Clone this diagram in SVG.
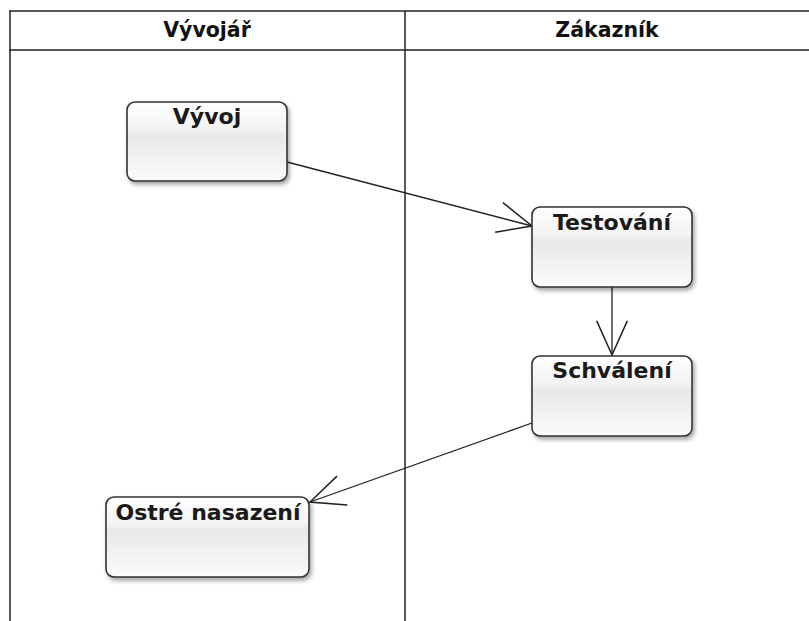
<svg xmlns="http://www.w3.org/2000/svg" width="809" height="621" viewBox="0 0 809 621">
<style>
.frame{stroke:#222;stroke-width:1.5;fill:none}
.hdr{font-family:"DejaVu Sans",sans-serif;font-weight:bold;font-size:20.5px;fill:#111;text-anchor:middle}
.box{fill:url(#g);stroke:#333;stroke-width:1.6;filter:url(#sh)}
.lbl{font-family:"DejaVu Sans",sans-serif;font-weight:bold;font-size:22px;fill:#1a1a1a;text-anchor:middle}
.edge{stroke:#222;stroke-width:1.3;fill:none;marker-end:url(#arr)}
</style>
<defs>
<linearGradient id="g" x1="0" y1="0" x2="0" y2="1">
<stop offset="0" stop-color="#ffffff"/>
<stop offset="0.35" stop-color="#f2f2f2"/>
<stop offset="0.42" stop-color="#e8e8e8"/>
<stop offset="1" stop-color="#fbfbfb"/>
</linearGradient>
<filter id="sh" x="-10%" y="-10%" width="125%" height="135%">
<feDropShadow dx="2" dy="3" stdDeviation="2.2" flood-color="#000" flood-opacity="0.35"/>
</filter>
<marker id="arr" markerUnits="userSpaceOnUse" markerWidth="40" markerHeight="40" refX="0" refY="0" viewBox="-32 -16 34 32" orient="auto">
<path d="M-29,-13 L0,0 L-29,13" fill="none" stroke="#222" stroke-width="1.3"/>
</marker>
</defs>
<g id="frame">
<line class="frame" x1="9" y1="11" x2="809" y2="11"/>
<line class="frame" x1="9" y1="50" x2="809" y2="50"/>
<line class="frame" x1="10" y1="11" x2="10" y2="621"/>
<line class="frame" x1="405" y1="11" x2="405" y2="621"/>
<text class="hdr" x="207" y="37">Vývojář</text>
<text class="hdr" x="607" y="37">Zákazník</text>
</g>
<g id="connectors">
<line class="edge" x1="287" y1="162" x2="532" y2="226"/>
<line class="edge" x1="612" y1="287" x2="612" y2="355"/>
<line class="edge" x1="532" y1="423" x2="310" y2="502"/>
</g>
<g id="n-vyvoj">
<rect class="box" x="127" y="102" width="160" height="79" rx="8"/>
<text class="lbl" x="207" y="124">Vývoj</text>
</g>
<g id="n-testovani">
<rect class="box" x="532" y="207" width="160" height="80" rx="8"/>
<text class="lbl" x="612" y="230">Testování</text>
</g>
<g id="n-schvaleni">
<rect class="box" x="532" y="356" width="160" height="80" rx="8"/>
<text class="lbl" x="612" y="378">Schválení</text>
</g>
<g id="n-ostre">
<rect class="box" x="106" y="497" width="203" height="80" rx="8"/>
<text class="lbl" x="208" y="520">Ostré nasazení</text>
</g>
</svg>
